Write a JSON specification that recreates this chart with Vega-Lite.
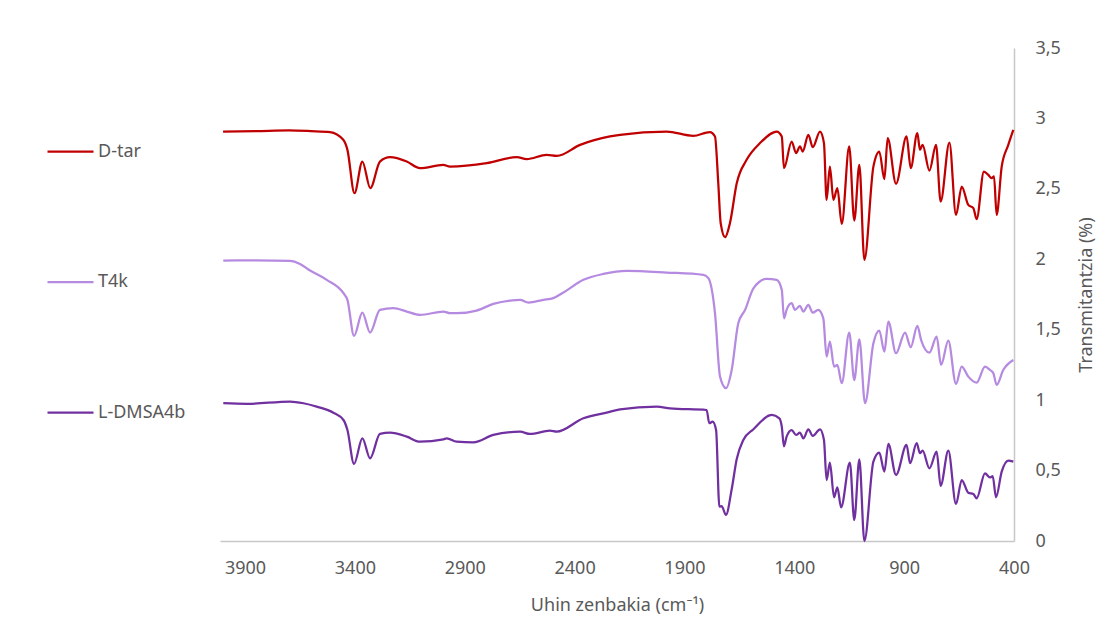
{
  "$schema": "https://vega.github.io/schema/vega-lite/v6.json",
  "width": 794,
  "height": 493,
  "autosize": {"type": "none"},
  "padding": {"left": 220, "top": 48, "right": 96, "bottom": 84},
  "background": "white",
  "config": {"view": {"stroke": null}, "font": "Noto Sans"},
  "data": {"values": [
    {"series": "D-tar", "wn": 4000, "T": 2.907},
    {"series": "D-tar", "wn": 3850, "T": 2.91},
    {"series": "D-tar", "wn": 3700, "T": 2.915},
    {"series": "D-tar", "wn": 3600, "T": 2.91},
    {"series": "D-tar", "wn": 3513, "T": 2.903},
    {"series": "D-tar", "wn": 3453, "T": 2.848},
    {"series": "D-tar", "wn": 3434, "T": 2.777},
    {"series": "D-tar", "wn": 3402, "T": 2.469},
    {"series": "D-tar", "wn": 3366, "T": 2.694},
    {"series": "D-tar", "wn": 3330, "T": 2.505},
    {"series": "D-tar", "wn": 3286, "T": 2.694},
    {"series": "D-tar", "wn": 3240, "T": 2.725},
    {"series": "D-tar", "wn": 3164, "T": 2.694},
    {"series": "D-tar", "wn": 3104, "T": 2.647},
    {"series": "D-tar", "wn": 2998, "T": 2.67},
    {"series": "D-tar", "wn": 2967, "T": 2.658},
    {"series": "D-tar", "wn": 2800, "T": 2.682},
    {"series": "D-tar", "wn": 2663, "T": 2.725},
    {"series": "D-tar", "wn": 2618, "T": 2.711},
    {"series": "D-tar", "wn": 2527, "T": 2.741},
    {"series": "D-tar", "wn": 2481, "T": 2.734},
    {"series": "D-tar", "wn": 2375, "T": 2.812},
    {"series": "D-tar", "wn": 2239, "T": 2.872},
    {"series": "D-tar", "wn": 2193, "T": 2.884},
    {"series": "D-tar", "wn": 1981, "T": 2.907},
    {"series": "D-tar", "wn": 1860, "T": 2.876},
    {"series": "D-tar", "wn": 1784, "T": 2.903},
    {"series": "D-tar", "wn": 1761, "T": 2.872},
    {"series": "D-tar", "wn": 1746, "T": 2.54},
    {"series": "D-tar", "wn": 1735, "T": 2.256},
    {"series": "D-tar", "wn": 1715, "T": 2.157},
    {"series": "D-tar", "wn": 1693, "T": 2.256},
    {"series": "D-tar", "wn": 1662, "T": 2.54},
    {"series": "D-tar", "wn": 1617, "T": 2.706},
    {"series": "D-tar", "wn": 1556, "T": 2.825},
    {"series": "D-tar", "wn": 1480, "T": 2.907},
    {"series": "D-tar", "wn": 1457, "T": 2.872},
    {"series": "D-tar", "wn": 1447, "T": 2.647},
    {"series": "D-tar", "wn": 1412, "T": 2.836},
    {"series": "D-tar", "wn": 1392, "T": 2.754},
    {"series": "D-tar", "wn": 1374, "T": 2.801},
    {"series": "D-tar", "wn": 1362, "T": 2.765},
    {"series": "D-tar", "wn": 1336, "T": 2.884},
    {"series": "D-tar", "wn": 1316, "T": 2.796},
    {"series": "D-tar", "wn": 1283, "T": 2.907},
    {"series": "D-tar", "wn": 1265, "T": 2.825},
    {"series": "D-tar", "wn": 1253, "T": 2.422},
    {"series": "D-tar", "wn": 1238, "T": 2.658},
    {"series": "D-tar", "wn": 1222, "T": 2.422},
    {"series": "D-tar", "wn": 1204, "T": 2.505},
    {"series": "D-tar", "wn": 1184, "T": 2.251},
    {"series": "D-tar", "wn": 1150, "T": 2.801},
    {"series": "D-tar", "wn": 1127, "T": 2.275},
    {"series": "D-tar", "wn": 1104, "T": 2.67},
    {"series": "D-tar", "wn": 1081, "T": 1.996},
    {"series": "D-tar", "wn": 1040, "T": 2.658},
    {"series": "D-tar", "wn": 1013, "T": 2.765},
    {"series": "D-tar", "wn": 990, "T": 2.569},
    {"series": "D-tar", "wn": 975, "T": 2.86},
    {"series": "D-tar", "wn": 937, "T": 2.536},
    {"series": "D-tar", "wn": 889, "T": 2.872},
    {"series": "D-tar", "wn": 870, "T": 2.647},
    {"series": "D-tar", "wn": 840, "T": 2.896},
    {"series": "D-tar", "wn": 828, "T": 2.777},
    {"series": "D-tar", "wn": 816, "T": 2.812},
    {"series": "D-tar", "wn": 785, "T": 2.63},
    {"series": "D-tar", "wn": 755, "T": 2.812},
    {"series": "D-tar", "wn": 734, "T": 2.41},
    {"series": "D-tar", "wn": 694, "T": 2.829},
    {"series": "D-tar", "wn": 664, "T": 2.315},
    {"series": "D-tar", "wn": 638, "T": 2.516},
    {"series": "D-tar", "wn": 608, "T": 2.386},
    {"series": "D-tar", "wn": 585, "T": 2.363},
    {"series": "D-tar", "wn": 570, "T": 2.285},
    {"series": "D-tar", "wn": 537, "T": 2.623},
    {"series": "D-tar", "wn": 517, "T": 2.599},
    {"series": "D-tar", "wn": 502, "T": 2.576},
    {"series": "D-tar", "wn": 491, "T": 2.588},
    {"series": "D-tar", "wn": 479, "T": 2.315},
    {"series": "D-tar", "wn": 456, "T": 2.658},
    {"series": "D-tar", "wn": 426, "T": 2.812},
    {"series": "D-tar", "wn": 403, "T": 2.919},

    {"series": "T4k", "wn": 3999, "T": 1.991},
    {"series": "T4k", "wn": 3850, "T": 1.993},
    {"series": "T4k", "wn": 3695, "T": 1.988},
    {"series": "T4k", "wn": 3650, "T": 1.967},
    {"series": "T4k", "wn": 3604, "T": 1.92},
    {"series": "T4k", "wn": 3528, "T": 1.854},
    {"series": "T4k", "wn": 3452, "T": 1.759},
    {"series": "T4k", "wn": 3434, "T": 1.712},
    {"series": "T4k", "wn": 3404, "T": 1.456},
    {"series": "T4k", "wn": 3366, "T": 1.622},
    {"series": "T4k", "wn": 3331, "T": 1.48},
    {"series": "T4k", "wn": 3286, "T": 1.641},
    {"series": "T4k", "wn": 3225, "T": 1.653},
    {"series": "T4k", "wn": 3164, "T": 1.629},
    {"series": "T4k", "wn": 3104, "T": 1.605},
    {"series": "T4k", "wn": 2997, "T": 1.629},
    {"series": "T4k", "wn": 2967, "T": 1.617},
    {"series": "T4k", "wn": 2937, "T": 1.617},
    {"series": "T4k", "wn": 2846, "T": 1.636},
    {"series": "T4k", "wn": 2770, "T": 1.683},
    {"series": "T4k", "wn": 2694, "T": 1.707},
    {"series": "T4k", "wn": 2648, "T": 1.712},
    {"series": "T4k", "wn": 2610, "T": 1.693},
    {"series": "T4k", "wn": 2542, "T": 1.712},
    {"series": "T4k", "wn": 2497, "T": 1.724},
    {"series": "T4k", "wn": 2451, "T": 1.764},
    {"series": "T4k", "wn": 2360, "T": 1.854},
    {"series": "T4k", "wn": 2269, "T": 1.896},
    {"series": "T4k", "wn": 2163, "T": 1.918},
    {"series": "T4k", "wn": 1981, "T": 1.906},
    {"series": "T4k", "wn": 1814, "T": 1.889},
    {"series": "T4k", "wn": 1791, "T": 1.866},
    {"series": "T4k", "wn": 1761, "T": 1.617},
    {"series": "T4k", "wn": 1738, "T": 1.167},
    {"series": "T4k", "wn": 1711, "T": 1.085},
    {"series": "T4k", "wn": 1685, "T": 1.214},
    {"series": "T4k", "wn": 1655, "T": 1.546},
    {"series": "T4k", "wn": 1624, "T": 1.641},
    {"series": "T4k", "wn": 1586, "T": 1.794},
    {"series": "T4k", "wn": 1526, "T": 1.861},
    {"series": "T4k", "wn": 1480, "T": 1.854},
    {"series": "T4k", "wn": 1457, "T": 1.783},
    {"series": "T4k", "wn": 1447, "T": 1.581},
    {"series": "T4k", "wn": 1435, "T": 1.641},
    {"series": "T4k", "wn": 1412, "T": 1.688},
    {"series": "T4k", "wn": 1397, "T": 1.641},
    {"series": "T4k", "wn": 1374, "T": 1.669},
    {"series": "T4k", "wn": 1359, "T": 1.629},
    {"series": "T4k", "wn": 1336, "T": 1.676},
    {"series": "T4k", "wn": 1316, "T": 1.621},
    {"series": "T4k", "wn": 1291, "T": 1.641},
    {"series": "T4k", "wn": 1268, "T": 1.581},
    {"series": "T4k", "wn": 1253, "T": 1.309},
    {"series": "T4k", "wn": 1238, "T": 1.416},
    {"series": "T4k", "wn": 1219, "T": 1.238},
    {"series": "T4k", "wn": 1204, "T": 1.25},
    {"series": "T4k", "wn": 1184, "T": 1.12},
    {"series": "T4k", "wn": 1150, "T": 1.48},
    {"series": "T4k", "wn": 1127, "T": 1.143},
    {"series": "T4k", "wn": 1104, "T": 1.432},
    {"series": "T4k", "wn": 1078, "T": 0.979},
    {"series": "T4k", "wn": 1040, "T": 1.404},
    {"series": "T4k", "wn": 1013, "T": 1.494},
    {"series": "T4k", "wn": 990, "T": 1.344},
    {"series": "T4k", "wn": 972, "T": 1.558},
    {"series": "T4k", "wn": 937, "T": 1.333},
    {"series": "T4k", "wn": 896, "T": 1.48},
    {"series": "T4k", "wn": 870, "T": 1.376},
    {"series": "T4k", "wn": 840, "T": 1.527},
    {"series": "T4k", "wn": 823, "T": 1.428},
    {"series": "T4k", "wn": 785, "T": 1.337},
    {"series": "T4k", "wn": 752, "T": 1.451},
    {"series": "T4k", "wn": 732, "T": 1.25},
    {"series": "T4k", "wn": 699, "T": 1.423},
    {"series": "T4k", "wn": 664, "T": 1.115},
    {"series": "T4k", "wn": 638, "T": 1.238},
    {"series": "T4k", "wn": 608, "T": 1.167},
    {"series": "T4k", "wn": 570, "T": 1.124},
    {"series": "T4k", "wn": 532, "T": 1.238},
    {"series": "T4k", "wn": 509, "T": 1.214},
    {"series": "T4k", "wn": 494, "T": 1.191},
    {"series": "T4k", "wn": 479, "T": 1.108},
    {"series": "T4k", "wn": 449, "T": 1.214},
    {"series": "T4k", "wn": 403, "T": 1.285},

    {"series": "L-DMSA4b", "wn": 3999, "T": 0.978},
    {"series": "L-DMSA4b", "wn": 3892, "T": 0.974},
    {"series": "L-DMSA4b", "wn": 3695, "T": 0.99},
    {"series": "L-DMSA4b", "wn": 3634, "T": 0.978},
    {"series": "L-DMSA4b", "wn": 3574, "T": 0.954},
    {"series": "L-DMSA4b", "wn": 3498, "T": 0.911},
    {"series": "L-DMSA4b", "wn": 3452, "T": 0.859},
    {"series": "L-DMSA4b", "wn": 3434, "T": 0.788},
    {"series": "L-DMSA4b", "wn": 3404, "T": 0.547},
    {"series": "L-DMSA4b", "wn": 3366, "T": 0.729},
    {"series": "L-DMSA4b", "wn": 3331, "T": 0.587},
    {"series": "L-DMSA4b", "wn": 3286, "T": 0.76},
    {"series": "L-DMSA4b", "wn": 3240, "T": 0.769},
    {"series": "L-DMSA4b", "wn": 3164, "T": 0.741},
    {"series": "L-DMSA4b", "wn": 3104, "T": 0.705},
    {"series": "L-DMSA4b", "wn": 2997, "T": 0.722},
    {"series": "L-DMSA4b", "wn": 2982, "T": 0.729},
    {"series": "L-DMSA4b", "wn": 2937, "T": 0.705},
    {"series": "L-DMSA4b", "wn": 2861, "T": 0.701},
    {"series": "L-DMSA4b", "wn": 2770, "T": 0.753},
    {"series": "L-DMSA4b", "wn": 2648, "T": 0.776},
    {"series": "L-DMSA4b", "wn": 2603, "T": 0.76},
    {"series": "L-DMSA4b", "wn": 2512, "T": 0.783},
    {"series": "L-DMSA4b", "wn": 2482, "T": 0.776},
    {"series": "L-DMSA4b", "wn": 2360, "T": 0.871},
    {"series": "L-DMSA4b", "wn": 2254, "T": 0.911},
    {"series": "L-DMSA4b", "wn": 2193, "T": 0.935},
    {"series": "L-DMSA4b", "wn": 2026, "T": 0.954},
    {"series": "L-DMSA4b", "wn": 1966, "T": 0.942},
    {"series": "L-DMSA4b", "wn": 1799, "T": 0.93},
    {"series": "L-DMSA4b", "wn": 1787, "T": 0.836},
    {"series": "L-DMSA4b", "wn": 1772, "T": 0.847},
    {"series": "L-DMSA4b", "wn": 1756, "T": 0.788},
    {"series": "L-DMSA4b", "wn": 1741, "T": 0.244},
    {"series": "L-DMSA4b", "wn": 1731, "T": 0.248},
    {"series": "L-DMSA4b", "wn": 1711, "T": 0.185},
    {"series": "L-DMSA4b", "wn": 1685, "T": 0.367},
    {"series": "L-DMSA4b", "wn": 1662, "T": 0.582},
    {"series": "L-DMSA4b", "wn": 1632, "T": 0.717},
    {"series": "L-DMSA4b", "wn": 1586, "T": 0.793},
    {"series": "L-DMSA4b", "wn": 1503, "T": 0.895},
    {"series": "L-DMSA4b", "wn": 1468, "T": 0.871},
    {"series": "L-DMSA4b", "wn": 1457, "T": 0.812},
    {"series": "L-DMSA4b", "wn": 1447, "T": 0.672},
    {"series": "L-DMSA4b", "wn": 1435, "T": 0.741},
    {"series": "L-DMSA4b", "wn": 1412, "T": 0.788},
    {"series": "L-DMSA4b", "wn": 1392, "T": 0.753},
    {"series": "L-DMSA4b", "wn": 1374, "T": 0.769},
    {"series": "L-DMSA4b", "wn": 1359, "T": 0.729},
    {"series": "L-DMSA4b", "wn": 1336, "T": 0.793},
    {"series": "L-DMSA4b", "wn": 1316, "T": 0.746},
    {"series": "L-DMSA4b", "wn": 1283, "T": 0.793},
    {"series": "L-DMSA4b", "wn": 1265, "T": 0.717},
    {"series": "L-DMSA4b", "wn": 1253, "T": 0.433},
    {"series": "L-DMSA4b", "wn": 1238, "T": 0.556},
    {"series": "L-DMSA4b", "wn": 1219, "T": 0.31},
    {"series": "L-DMSA4b", "wn": 1204, "T": 0.381},
    {"series": "L-DMSA4b", "wn": 1187, "T": 0.239},
    {"series": "L-DMSA4b", "wn": 1147, "T": 0.556},
    {"series": "L-DMSA4b", "wn": 1127, "T": 0.149},
    {"series": "L-DMSA4b", "wn": 1104, "T": 0.58},
    {"series": "L-DMSA4b", "wn": 1081, "T": 0.0},
    {"series": "L-DMSA4b", "wn": 1040, "T": 0.563},
    {"series": "L-DMSA4b", "wn": 1013, "T": 0.627},
    {"series": "L-DMSA4b", "wn": 990, "T": 0.493},
    {"series": "L-DMSA4b", "wn": 972, "T": 0.689},
    {"series": "L-DMSA4b", "wn": 937, "T": 0.469},
    {"series": "L-DMSA4b", "wn": 889, "T": 0.682},
    {"series": "L-DMSA4b", "wn": 873, "T": 0.552},
    {"series": "L-DMSA4b", "wn": 843, "T": 0.694},
    {"series": "L-DMSA4b", "wn": 828, "T": 0.623},
    {"series": "L-DMSA4b", "wn": 816, "T": 0.642},
    {"series": "L-DMSA4b", "wn": 785, "T": 0.516},
    {"series": "L-DMSA4b", "wn": 752, "T": 0.634},
    {"series": "L-DMSA4b", "wn": 734, "T": 0.391},
    {"series": "L-DMSA4b", "wn": 699, "T": 0.642},
    {"series": "L-DMSA4b", "wn": 664, "T": 0.263},
    {"series": "L-DMSA4b", "wn": 638, "T": 0.433},
    {"series": "L-DMSA4b", "wn": 608, "T": 0.343},
    {"series": "L-DMSA4b", "wn": 585, "T": 0.334},
    {"series": "L-DMSA4b", "wn": 570, "T": 0.303},
    {"series": "L-DMSA4b", "wn": 532, "T": 0.48},
    {"series": "L-DMSA4b", "wn": 509, "T": 0.451},
    {"series": "L-DMSA4b", "wn": 497, "T": 0.461},
    {"series": "L-DMSA4b", "wn": 482, "T": 0.31},
    {"series": "L-DMSA4b", "wn": 456, "T": 0.492},
    {"series": "L-DMSA4b", "wn": 426, "T": 0.57},
    {"series": "L-DMSA4b", "wn": 403, "T": 0.563}
  ]},
  "mark": {"type": "line", "strokeWidth": 2.25, "interpolate": "monotone"},
  "encoding": {
    "x": {
      "field": "wn",
      "type": "quantitative",
      "scale": {"domain": [400, 4014], "reverse": true, "nice": false, "zero": false},
      "axis": {
        "values": [400, 900, 1400, 1900, 2400, 2900, 3400, 3900],
        "format": "d",
        "title": "Uhin zenbakia (cm⁻¹)",
        "grid": false,
        "ticks": false,
        "domainColor": "#c8c8c8",
        "domainWidth": 1.5,
        "labelColor": "#595959",
        "labelFontSize": 18,
        "labelPadding": 18,
        "labelFlush": false,
        "titleColor": "#595959",
        "titleFontSize": 18,
        "titleFontWeight": "normal",
        "titlePadding": 19
      }
    },
    "y": {
      "field": "T",
      "type": "quantitative",
      "scale": {"domain": [0, 3.5], "nice": false},
      "axis": {
        "orient": "right",
        "values": [0, 0.5, 1, 1.5, 2, 2.5, 3, 3.5],
        "labelExpr": "replace(format(datum.value, '.1~f'), '.', ',')",
        "title": "Transmitantzia (%)",
        "grid": false,
        "ticks": false,
        "domainColor": "#c8c8c8",
        "domainWidth": 1.5,
        "labelColor": "#595959",
        "labelFontSize": 18,
        "labelPadding": 21,
        "labelFlush": false,
        "titleColor": "#595959",
        "titleFontSize": 18,
        "titleFontWeight": "normal",
        "titleAngle": 270,
        "titleBaseline": "top",
        "titlePadding": 17
      }
    },
    "color": {
      "field": "series",
      "type": "nominal",
      "scale": {"domain": ["D-tar", "T4k", "L-DMSA4b"], "range": ["#C00000", "#B58AE0", "#7030A0"]},
      "legend": {
        "orient": "none",
        "legendX": -174,
        "legendY": 79,
        "title": null,
        "symbolType": "stroke",
        "symbolSize": 2116,
        "symbolStrokeWidth": 2.25,
        "labelFontSize": 18,
        "labelColor": "#595959",
        "labelOffset": 3,
        "rowPadding": 96.5
      }
    }
  }
}
